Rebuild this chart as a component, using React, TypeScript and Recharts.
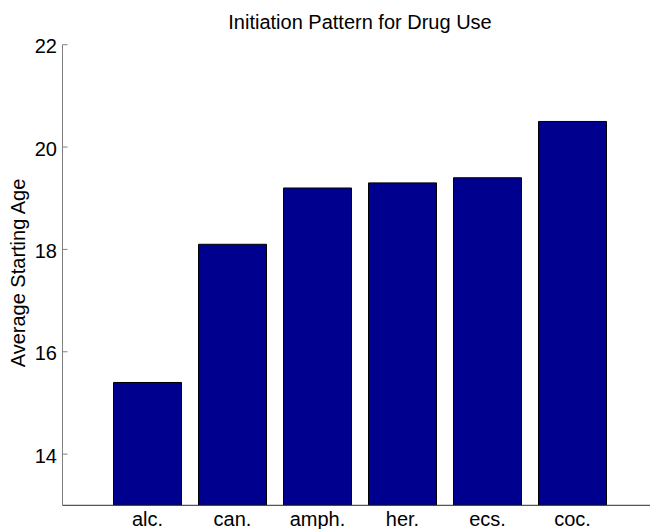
import { Bar, BarChart, XAxis, YAxis } from "recharts"

const drugs = ["alc.", "can.", "amph.", "her.", "ecs.", "coc."]
const startingAge = [15.4, 18.1, 19.2, 19.3, 19.4, 20.5]
const ageTicks = [14, 16, 18, 20, 22]

const data = drugs.map((name, i) => ({ name, age: startingAge[i] }))

const FONT = "'Liberation Sans', Arial, Helvetica, sans-serif"

function YTick(props: any) {
  const { x, y, payload } = props
  return (
    <g>
      <line x1={x} x2={x + 5} y1={y} y2={y} stroke="#808080" strokeWidth={1} />
      <text x={x - 5.5} y={y + 8.7} textAnchor="end" fontSize={20} fontFamily={FONT} fill="#000">
        {payload.value}
      </text>
    </g>
  )
}

function XTick(props: any) {
  const { x, y, payload } = props
  return (
    <text x={x} y={y + 21} textAnchor="middle" fontSize={20} fontFamily={FONT} fill="#000">
      {payload.value}
    </text>
  )
}

export default function App() {
  return (
    <div style={{ position: "absolute", left: 0, top: 0, width: 650, height: 529, overflow: "hidden", background: "#fff" }}>
      <style>{"html,body{margin:0;overflow:hidden}"}</style>
      <BarChart
        width={700}
        height={529}
        data={data}
        margin={{ top: 44.7, right: 0, bottom: 0, left: 0 }}
        barCategoryGap="10%"
      >
        <XAxis
          dataKey="name"
          height={23.7}
          padding={{ left: 42.5, right: 85 }}
          axisLine={{ stroke: "#2b2b2b" }}
          tickLine={false}
          tickSize={0}
          tickMargin={0}
          interval={0}
          tick={(p: any) => <XTick {...p} />}
        />
        <YAxis
          type="number"
          width={62.5}
          domain={[13, 22]}
          ticks={ageTicks}
          allowDataOverflow
          axisLine={{ stroke: "#808080" }}
          tickLine={false}
          tickSize={0}
          tickMargin={0}
          tick={(p: any) => <YTick {...p} />}
        />
        <Bar dataKey="age" fill="#00008f" stroke="#000" strokeWidth={1} isAnimationActive={false} />
      </BarChart>
      <svg width={650} height={529} style={{ position: "absolute", left: 0, top: 0, pointerEvents: "none" }}>
        <text x={360} y={29} textAnchor="middle" fontSize={20} fontFamily={FONT} fill="#000">
          Initiation Pattern for Drug Use
        </text>
        <text
          transform="translate(24.5,273) rotate(-90)"
          textAnchor="middle"
          fontSize={20}
          fontFamily={FONT}
          fill="#000"
        >
          Average Starting Age
        </text>
      </svg>
    </div>
  )
}
